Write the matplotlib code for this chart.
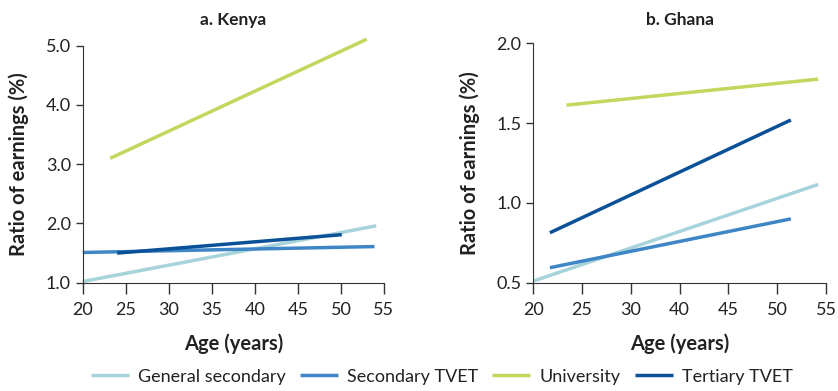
import matplotlib
matplotlib.use('Agg')
import matplotlib.pyplot as plt

plt.rcParams['font.family'] = ['Lato', 'DejaVu Sans']

series = ['General secondary', 'Secondary TVET', 'University', 'Tertiary TVET']
colors = ['#a7d3da', '#3f86c6', '#c5d55e', '#0a5197']

# Kenya: start / end of each fitted line (age, ratio)
kenya_x = [[20, 54.1], [20, 53.9], [23.2, 53.0], [24.0, 50.1]]
kenya_y = [[1.02, 1.96], [1.51, 1.61], [3.10, 5.11], [1.50, 1.81]]

# Ghana: the printed axis labels skip 35, so positions are on the drawn scale
ghana_x = [[20, 49.2], [21.7, 46.4], [23.4, 49.2], [21.7, 46.4]]
ghana_y = [[0.51, 1.116], [0.594, 0.90], [1.613, 1.776], [0.813, 1.52]]
ghana_ticks = [20, 25, 30, 35, 40, 45, 50]
ghana_labels = ['20', '25', '30', '40', '45', '50', '55']

fig = plt.figure(figsize=(8.38, 3.91), dpi=100)
ax1 = fig.add_axes([0.0987, 0.277, 0.3595, 0.606])
ax2 = fig.add_axes([0.6364, 0.277, 0.3493, 0.612])

for i, name in enumerate(series):
    ax1.plot(kenya_x[i], kenya_y[i], color=colors[i], lw=2.5, label=name,
             solid_capstyle='butt', clip_on=False)
    ax2.plot(ghana_x[i], ghana_y[i], color=colors[i], lw=2.5,
             solid_capstyle='butt', clip_on=False)

ax1.set_xlim(20, 55)
ax1.set_ylim(1.0, 5.0)
ax1.set_xticks(range(20, 56, 5))
ax1.set_yticks([1, 2, 3, 4, 5])
ax1.set_yticklabels(['1.0', '2.0', '3.0', '4.0', '5.0'])
ax1.set_title('a. Kenya', fontsize=12.5, fontweight='bold', color='#222222', pad=15)

ax2.set_xlim(20, 50)
ax2.set_ylim(0.5, 2.0)
ax2.set_xticks(ghana_ticks)
ax2.set_xticklabels(ghana_labels)
ax2.set_yticks([0.5, 1.0, 1.5, 2.0])
ax2.set_yticklabels(['0.5', '1.0', '1.5', '2.0'])
ax2.set_title('b. Ghana', fontsize=12.5, fontweight='bold', color='#222222', pad=13.3)

for ax in (ax1, ax2):
    ax.spines['top'].set_visible(False)
    ax.spines['right'].set_visible(False)
    ax.spines['left'].set_color('#333333')
    ax.spines['bottom'].set_color('#333333')
    ax.tick_params(axis='x', length=8, width=1, color='#333333', labelsize=13,
                   labelcolor='#222222', pad=6)
    ax.tick_params(axis='y', length=5, width=1, color='#333333', labelsize=13,
                   labelcolor='#222222')
    ax.set_xlabel('Age (years)', fontsize=14.5, fontweight='bold', color='#222222',
                  labelpad=11)
    ax.set_ylabel('Ratio of earnings (%)', fontsize=14.5, fontweight='bold', color='#222222',
                  labelpad=12)

fig.legend(loc='lower center', bbox_to_anchor=(0.527, -0.025), ncol=4, frameon=False,
           fontsize=13, handlelength=2.1, handletextpad=0.5, columnspacing=0.8,
           labelcolor='#222222')

fig.savefig('out.png', dpi=100)
